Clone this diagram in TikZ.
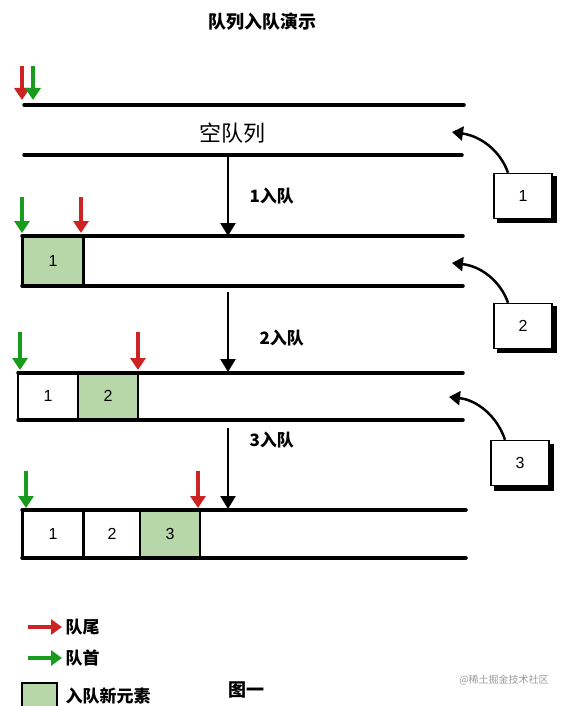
\documentclass[tikz,border=0pt]{standalone}
\usepackage{fontspec}
\setmainfont{Liberation Sans}
\newfontfamily\cjk{Noto Sans CJK SC}
\usetikzlibrary{arrows.meta}
\definecolor{qred}{RGB}{205,35,35}
\definecolor{qgreen}{RGB}{25,155,30}
\definecolor{qfill}{RGB}{183,215,168}
\tikzset{
  rail/.style={line width=3.5pt, line cap=round},
  cell/.style={draw, line width=2.5pt, minimum width=60pt, minimum height=48pt, inner sep=0pt, font=\fontsize{16}{16}\selectfont},
  newcell/.style={cell, fill=qfill},
  sidebox/.style={draw, line width=1.5pt, fill=white, minimum width=58pt, minimum height=45pt, inner sep=0pt, font=\fontsize{16}{16}\selectfont},
  shadow/.style={fill=black},
  redptr/.style={draw=qred, line width=3.5pt, -{Triangle[width=15pt,length=12pt]}},
  greenptr/.style={draw=qgreen, line width=3.5pt, -{Triangle[width=15pt,length=12pt]}},
  down/.style={line width=2.5pt, -{Triangle[width=15pt,length=13pt]}},
  curve/.style={line width=2.5pt, -{Triangle[width=14pt,length=11pt]}},
  lbl/.style={font=\cjk\fontsize{17}{17}\selectfont\bfseries},
}
\begin{document}
\begin{tikzpicture}[x=1pt,y=-1pt]
\useasboundingbox (0,0) rectangle (575,706);
% title
\node[font=\cjk\fontsize{18}{18}\selectfont\bfseries] (title) at (262,22) {队列入队演示};

% queue 0
\draw[rail] (24,105) -- (464,105);
\draw[rail] (24,155) -- (462,155);
\node[font=\cjk\fontsize{22}{22}\selectfont] (empty) at (232,133) {空队列};
\coordinate (r0a) at (22,66); \coordinate (r0b) at (22,100);
\coordinate (g0a) at (33,66); \coordinate (g0b) at (33,100);
\draw[redptr] (r0a) -- (r0b);
\draw[greenptr] (g0a) -- (g0b);

% step 1
\coordinate (s1a) at (228,157); \coordinate (s1b) at (228,236);
\draw[down] (s1a) -- (s1b);
\node[lbl, anchor=west] (l1) at (246,196) {1入队};

% queue 1
\node[newcell, minimum width=61pt, minimum height=50pt] (q1c1) at (53,261) {1};
\draw[rail] (22,236) -- (463,236);
\draw[rail] (22,286) -- (463,286);
\coordinate (g1a) at (22,197); \coordinate (g1b) at (22,233);
\coordinate (r1a) at (81,197); \coordinate (r1b) at (81,233);
\draw[greenptr] (g1a) -- (g1b);
\draw[redptr] (r1a) -- (r1b);

% step 2
\coordinate (s2a) at (228,292); \coordinate (s2b) at (228,372);
\draw[down] (s2a) -- (s2b);
\node[lbl, anchor=west] (l2) at (256,338) {2入队};

% queue 2
\node[cell, minimum height=47pt] (q2c1) at (48,396) {1};
\node[newcell, minimum height=47pt] (q2c2) at (108,396) {2};
\draw[rail] (18,373) -- (463,373);
\draw[rail] (18,420) -- (463,420);
\coordinate (g2a) at (20,332); \coordinate (g2b) at (20,370);
\coordinate (r2a) at (138,332); \coordinate (r2b) at (138,370);
\draw[greenptr] (g2a) -- (g2b);
\draw[redptr] (r2a) -- (r2b);

% step 3
\coordinate (s3a) at (228,428); \coordinate (s3b) at (228,509);
\draw[down] (s3a) -- (s3b);
\node[lbl, anchor=west] (l3) at (246,440) {3入队};

% queue 3
\node[cell, minimum width=61pt] (q3c1) at (53,534) {1};
\node[cell, minimum width=57pt] (q3c2) at (112,534) {2};
\node[newcell, minimum width=60pt] (q3c3) at (170,534) {3};
\draw[rail] (22,510) -- (466,510);
\draw[rail] (22,558) -- (466,558);
\coordinate (g3a) at (26,471); \coordinate (g3b) at (26,508);
\coordinate (r3a) at (198,471); \coordinate (r3b) at (198,508);
\draw[greenptr] (g3a) -- (g3b);
\draw[redptr] (r3a) -- (r3b);

% side boxes
\fill[shadow] (497,176) rectangle (557,223);
\node[sidebox] (b1) at (523,196) {1};
\fill[shadow] (497,306) rectangle (557,353);
\node[sidebox] (b2) at (523,326) {2};
\fill[shadow] (494,444) rectangle (554,491);
\node[sidebox] (b3) at (520,463) {3};
\coordinate (t1) at (452,132);
\coordinate (t2) at (452,263);
\coordinate (t3) at (449,397);
\draw[curve] ([xshift=-15pt]b1.north) .. controls (500,150) and (480,136) .. (t1);
\draw[curve] ([xshift=-15pt]b2.north) .. controls (500,280) and (480,266) .. (t2);
\draw[curve] ([xshift=-15pt]b3.north) .. controls (497,416) and (477,400) .. (t3);

% legend
\coordinate (lr1) at (28,627); \coordinate (lr2) at (62,627);
\coordinate (lg1) at (28,658); \coordinate (lg2) at (62,658);
\draw[draw=qred, line width=4.5pt, -{Triangle[width=15pt,length=11pt]}] (lr1) -- (lr2);
\draw[draw=qgreen, line width=4.5pt, -{Triangle[width=15pt,length=11pt]}] (lg1) -- (lg2);
\node[font=\cjk\fontsize{17}{17}\selectfont\bfseries, anchor=west] (ltail) at (62,627) {队尾};
\node[font=\cjk\fontsize{17}{17}\selectfont\bfseries, anchor=west] (lhead) at (62,658) {队首};
\draw[line width=2.5pt, fill=qfill] (22,683) rectangle (57,710);
\node[font=\cjk\fontsize{17}{17}\selectfont\bfseries, anchor=west] (lnew) at (62,696) {入队新元素};
\node[font=\cjk\fontsize{18}{18}\selectfont\bfseries] (fig) at (246,690) {图一};
\node[font=\cjk\fontsize{10}{10}\selectfont, text=black!40] (wm) at (504,680) {@稀土掘金技术社区};
\end{tikzpicture}
\end{document}
